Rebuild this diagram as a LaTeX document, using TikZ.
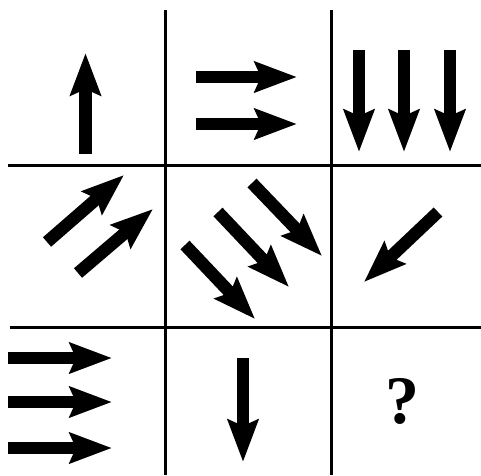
\documentclass[tikz,border=0pt]{standalone}
\usepackage{fontspec}
\setmainfont{Liberation Serif}
\usetikzlibrary{arrows.meta}
\tikzset{
  grid/.style={line width=3pt, black},
  fat/.style={line width=12.5pt, black, -{Stealth[length=42pt, width=30pt, inset=6pt]}},
}
\begin{document}
\begin{tikzpicture}[x=1pt, y=-1pt]
\useasboundingbox (0,0) rectangle (481,475);
% grid
\coordinate (v1t) at (165.5,10); \coordinate (v1b) at (165.5,475);
\coordinate (v2t) at (331.5,10); \coordinate (v2b) at (331.5,475);
\coordinate (h1l) at (8,165.5);  \coordinate (h1r) at (481,165.5);
\coordinate (h2l) at (10,327);   \coordinate (h2r) at (481,327);
\draw[grid] (v1t) -- (v1b);
\draw[grid] (v2t) -- (v2b);
\draw[grid] (h1l) -- (h1r);
\draw[grid] (h2l) -- (h2r);
% row 1
\coordinate (a1s) at (85.5,154); \coordinate (a1e) at (85.5,53);
\draw[fat] (a1s) -- (a1e);
\coordinate (a2s) at (196,77); \coordinate (a2e) at (297,77);
\draw[fat] (a2s) -- (a2e);
\coordinate (a3s) at (196,124); \coordinate (a3e) at (297,124);
\draw[fat] (a3s) -- (a3e);
\foreach \x/\n in {359/d1,404/d2,450/d3}{
  \coordinate (\n s) at (\x,50); \coordinate (\n e) at (\x,152);
  \draw[fat] (\n s) -- (\n e);
}
% row 2
\coordinate (b1s) at (47,242); \coordinate (b1e) at (124,175);
\draw[fat] (b1s) -- (b1e);
\coordinate (b2s) at (78,273); \coordinate (b2e) at (153,209);
\draw[fat] (b2s) -- (b2e);
\coordinate (c1s) at (252,183); \coordinate (c1e) at (322,256);
\draw[fat] (c1s) -- (c1e);
\coordinate (c2s) at (218,212); \coordinate (c2e) at (289,287);
\draw[fat] (c2s) -- (c2e);
\coordinate (c3s) at (185,245); \coordinate (c3e) at (255,319);
\draw[fat] (c3s) -- (c3e);
\coordinate (e1s) at (438,212); \coordinate (e1e) at (364,282);
\draw[fat] (e1s) -- (e1e);
% row 3
\foreach \y/\n in {358/r1,402/r2,448/r3}{
  \coordinate (\n s) at (8,\y); \coordinate (\n e) at (112,\y);
  \draw[fat] (\n s) -- (\n e);
}
\coordinate (f1s) at (243,358); \coordinate (f1e) at (243,462);
\draw[fat] (f1s) -- (f1e);
\node[font=\fontsize{68}{68}\selectfont\bfseries] (q) at (402,401) {?};
\end{tikzpicture}
\end{document}
